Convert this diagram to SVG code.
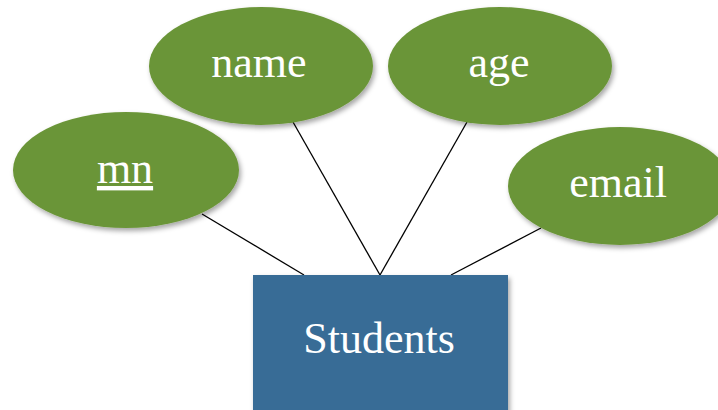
<svg xmlns="http://www.w3.org/2000/svg" width="718" height="410" viewBox="0 0 718 410">
<defs>
<filter id="sh" x="-10%" y="-10%" width="125%" height="130%">
<feDropShadow dx="2" dy="3" stdDeviation="2.5" flood-color="#000" flood-opacity="0.35"/>
</filter>
<style>
.attr{fill:#6b9538;filter:url(#sh)}
.ent{fill:#386c96;filter:url(#sh)}
.lbl{font-family:"Liberation Serif","Times New Roman",serif;font-size:44px;fill:#fff;text-anchor:middle}
.conn line{stroke:#000;stroke-width:1.3}
</style>
</defs>
<rect width="718" height="410" fill="#fff"/>
<g id="connectors" class="conn">
<line x1="202" y1="214" x2="304" y2="275"/>
<line x1="293" y1="122" x2="380" y2="275"/>
<line x1="467" y1="122" x2="380" y2="275"/>
<line x1="541" y1="228" x2="451" y2="275"/>
</g>
<g id="mn">
<ellipse class="attr" cx="126" cy="170" rx="113" ry="58"/>
<text class="lbl" x="125" y="183" text-decoration="underline">mn</text>
</g>
<g id="name">
<ellipse class="attr" cx="261" cy="66" rx="112" ry="59"/>
<text class="lbl" x="259" y="77">name</text>
</g>
<g id="age">
<ellipse class="attr" cx="500" cy="66" rx="112" ry="59"/>
<text class="lbl" x="499" y="77">age</text>
</g>
<g id="email">
<ellipse class="attr" cx="620" cy="186" rx="112" ry="59"/>
<text class="lbl" x="618" y="197">email</text>
</g>
<g id="students">
<rect class="ent" x="253" y="275" width="255" height="150"/>
<text class="lbl" x="379" y="353">Students</text>
</g>
</svg>
